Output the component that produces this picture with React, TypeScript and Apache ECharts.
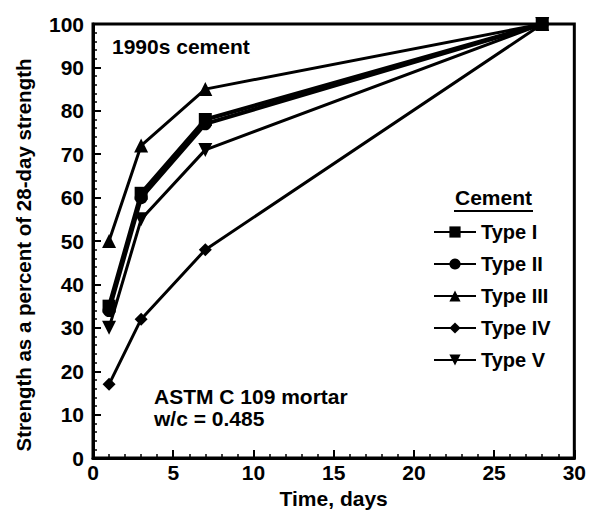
import React, { useEffect, useRef } from "react";
import * as echarts from "echarts";

const days = [1, 3, 7, 28];
const typeI = [35, 61, 78, 100];
const typeII = [34, 60, 77, 100];
const typeIII = [50, 72, 85, 100];
const typeIV = [17, 32, 48, 100];
const typeV = [30, 55, 71, 100];

const seriesNames = ["Type I", "Type II", "Type III", "Type IV", "Type V"];
const seriesValues = [typeI, typeII, typeIII, typeIV, typeV];
const seriesSymbols = ["rect", "circle", "triangle", "diamond", "triangle"];
const seriesRotate = [0, 0, 0, 0, 180];

const xTicks = [0, 5, 10, 15, 20, 25, 30];
const yTicks = [0, 10, 20, 30, 40, 50, 60, 70, 80, 90, 100];

const FONT = "'Liberation Sans', Arial, Helvetica, sans-serif";

export default function App() {
  const ref = useRef<HTMLDivElement>(null);
  useEffect(() => {
    if (!ref.current) return;
    const chart = echarts.init(ref.current, undefined, { renderer: "svg" });
    const series = seriesNames.map((name, i) => ({
      name,
      type: "line",
      data: days.map((d, j) => [d, seriesValues[i][j]]),
      symbol: seriesSymbols[i],
      symbolRotate: seriesRotate[i],
      symbolSize: i === 2 || i === 4 ? 14 : 13,
      clip: false,
      lineStyle: { color: "#000", width: i < 2 ? 4 : 3 },
      itemStyle: { color: "#000" },
      z: 3,
    }));
    chart.setOption({
      animation: false,
      backgroundColor: "#fff",
      grid: {
        left: 93,
        top: 24,
        right: 9,
        bottom: 52,
        show: true,
        borderColor: "#000",
        borderWidth: 3,
        backgroundColor: "transparent",
      },
      xAxis: {
        type: "value",
        min: xTicks[0],
        max: xTicks[xTicks.length - 1],
        interval: 5,
        name: "Time, days",
        nameLocation: "middle",
        nameGap: 27,
        nameTextStyle: { fontFamily: FONT, fontWeight: "bold", fontSize: 21, color: "#000" },
        axisLine: { show: true, lineStyle: { color: "#000", width: 3 } },
        axisTick: { show: true, inside: true, length: 8, lineStyle: { color: "#000", width: 2 } },
        minorTick: { show: true, splitNumber: 5, length: 4, lineStyle: { color: "#000", width: 1.5 } },
        splitLine: { show: false },
        axisLabel: {
          fontFamily: FONT,
          fontWeight: "bold",
          fontSize: 21,
          color: "#000",
          margin: 4,
        },
      },
      yAxis: {
        type: "value",
        min: yTicks[0],
        max: yTicks[yTicks.length - 1],
        interval: 10,
        axisLine: { show: true, lineStyle: { color: "#000", width: 3 } },
        axisTick: { show: true, inside: true, length: 8, lineStyle: { color: "#000", width: 2 } },
        minorTick: { show: true, splitNumber: 5, length: 4, lineStyle: { color: "#000", width: 1.5 } },
        splitLine: { show: false },
        axisLabel: {
          fontFamily: FONT,
          fontWeight: "bold",
          fontSize: 21,
          color: "#000",
          margin: 9,
        },
      },
      legend: {
        orient: "vertical",
        left: 428,
        top: 217,
        itemWidth: 42,
        itemHeight: 14,
        itemGap: 12,
        data: seriesNames,
        textStyle: { fontFamily: FONT, fontWeight: "bold", fontSize: 20, color: "#000" },
        inactiveColor: "#000",
      },
      graphic: [
        {
          type: "text",
          x: 23,
          y: 255,
          rotation: Math.PI / 2,
          style: {
            text: "Strength as a percent of 28-day strength",
            font: `bold 20.5px ${FONT}`,
            fill: "#000",
            align: "center",
            verticalAlign: "middle",
          },
        },
        {
          type: "text",
          left: 112,
          top: 36,
          style: { text: "1990s cement", font: `bold 21px ${FONT}`, fill: "#000" },
        },
        {
          type: "text",
          left: 455,
          top: 187,
          style: { text: "Cement", font: `bold 21px ${FONT}`, fill: "#000" },
        },
        {
          type: "line",
          shape: { x1: 454, y1: 211, x2: 533, y2: 211 },
          style: { stroke: "#000", lineWidth: 2 },
        },
        {
          type: "text",
          left: 154,
          top: 386,
          style: { text: "ASTM C 109 mortar", font: `bold 21px ${FONT}`, fill: "#000" },
        },
        {
          type: "text",
          left: 154,
          top: 408,
          style: { text: "w/c = 0.485", font: `bold 21px ${FONT}`, fill: "#000" },
        },
      ],
      series,
    });
    return () => chart.dispose();
  }, []);
  return <div ref={ref} style={{ width: 589, height: 514, position: "absolute", left: 0, top: 0 }} />;
}
